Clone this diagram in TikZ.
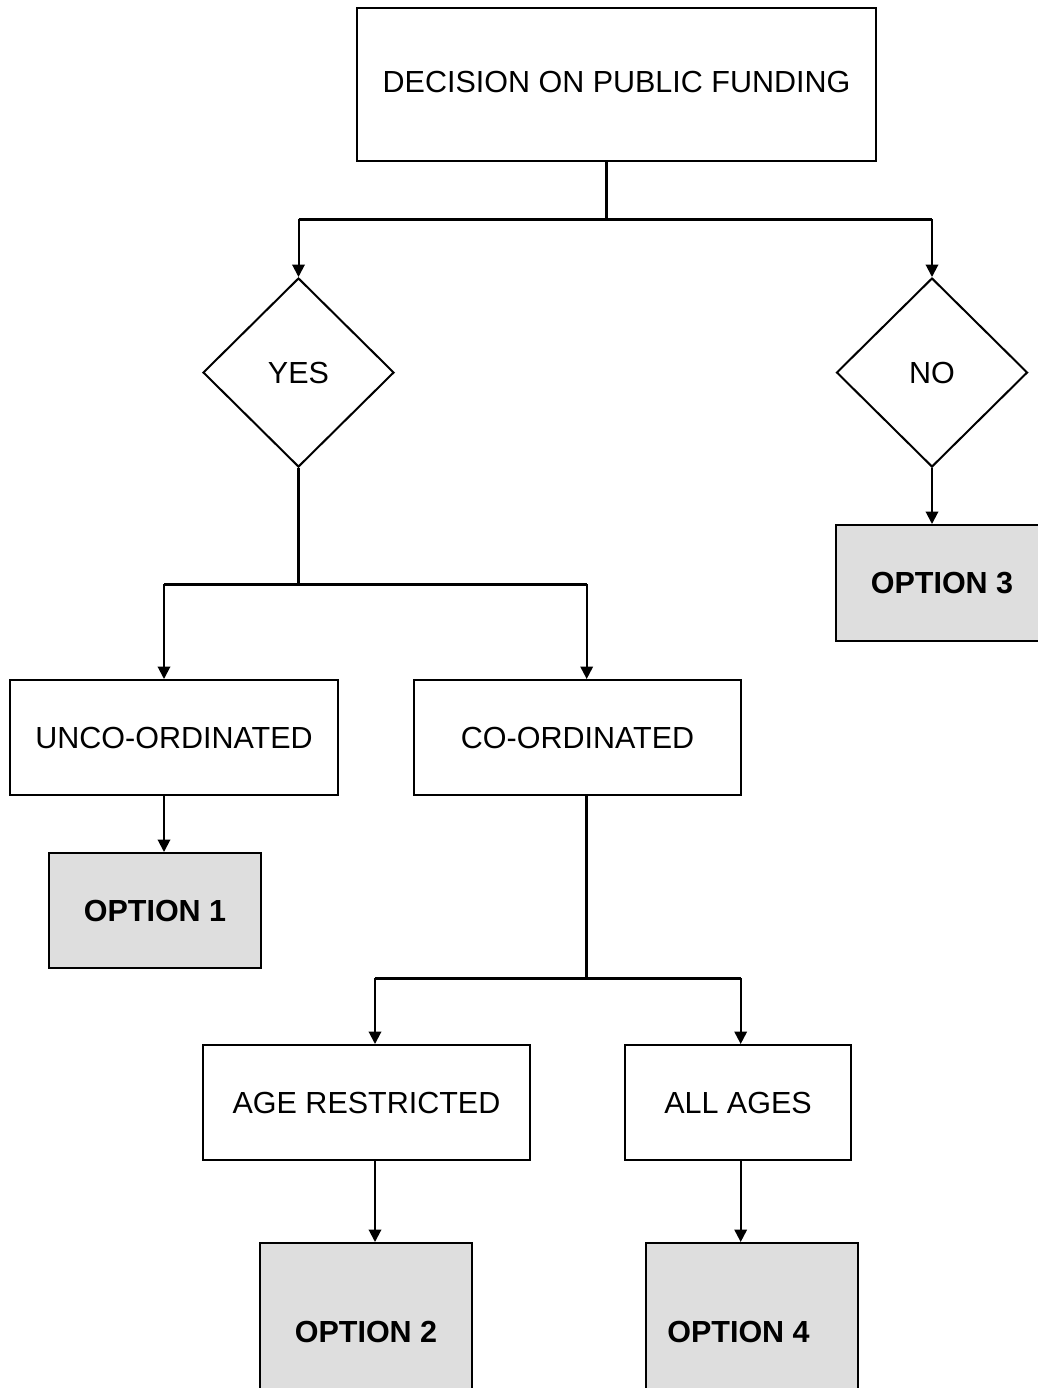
\documentclass[tikz,border=0pt]{standalone}
\usepackage{fontspec}
\setmainfont{Liberation Sans}
\usetikzlibrary{arrows.meta, shapes.geometric}
\definecolor{optgray}{RGB}{222,222,222}

\begin{document}
\begin{tikzpicture}[x=0.4pt, y=-0.4pt,
    every node/.style={font=\fontsize{12.2}{14}\selectfont},
    box/.style={draw, line width=0.8pt, fill=white, inner sep=0pt, minimum height=46pt},
    optbox/.style={box, fill=optgray, font=\fontsize{12.2}{14}\selectfont\bfseries, minimum width=84.8pt},
    choice/.style={draw, diamond, line width=0.8pt, inner sep=0pt, minimum width=76.4pt, minimum height=75.6pt},
    bus/.style={line width=1.2pt},
    arr/.style={line width=0.8pt, -{Triangle[length=5pt, width=5pt]}}]
  \clip (0,0) rectangle (1038,1388);
  \fill[white] (0,0) rectangle (1038,1388);
  \node[box, minimum width=207.6pt, minimum height=61.2pt] (dec) at (616.5,84.5) {\raisebox{2pt}{DECISION ON PUBLIC FUNDING}};
  \node[choice] (yes) at (298.5,372.5) {YES};
  \node[choice] (no) at (932,372.5) {NO};
  \node[optbox, minimum height=46.4pt] (opt3) at (942,583) {OPTION 3};
  \node[box, minimum width=131.2pt] (unco) at (174,737.5) {UNCO-ORDINATED};
  \node[box, minimum width=130.8pt] (co) at (577.5,737.5) {CO-ORDINATED};
  \node[optbox] (opt1) at (155,910.5) {OPTION 1};
  \node[box, minimum width=130.8pt] (age) at (366.5,1102.5) {AGE RESTRICTED};
  \node[box, minimum width=90.4pt] (all) at (738,1102.5) {ALL AGES};
  \node[optbox, minimum height=71.2pt] (opt2) at (366,1332) {OPTION 2};
  \node[optbox, minimum height=71.2pt] (opt4) at (751.5,1332) {OPTION 4\hspace*{10.4pt}};
  \coordinate (j1) at (606.7,219);
  \coordinate (b2l) at (164,584);
  \coordinate (b2r) at (586.7,584);
  \coordinate (b3l) at (375,978);
  \coordinate (b3r) at (740.7,978);
  % funding decision
  \draw[bus] (dec.south -| j1) -- (j1);
  \draw[bus] (yes |- j1) -- (no |- j1);
  \draw[arr] (yes |- j1) -- (yes.north);
  \draw[arr] (no |- j1) -- (no.north);
  \draw[arr] (no.south) -- (no.south |- opt3.north);
  % yes branch
  \draw[bus] (yes.south) -- (yes |- b2l);
  \draw[bus] (b2l) -- (b2r);
  \draw[arr] (b2l) -- (b2l |- unco.north);
  \draw[arr] (b2r) -- (b2r |- co.north);
  \draw[arr] (b2l |- unco.south) -- (b2l |- opt1.north);
  % co-ordinated branch
  \draw[bus] (b2r |- co.south) -- (b2r |- b3l);
  \draw[bus] (b3l) -- (b3r);
  \draw[arr] (b3l) -- (b3l |- age.north);
  \draw[arr] (b3r) -- (b3r |- all.north);
  \draw[arr] (b3l |- age.south) -- (b3l |- opt2.north);
  \draw[arr] (b3r |- all.south) -- (b3r |- opt4.north);
\end{tikzpicture}
\end{document}
